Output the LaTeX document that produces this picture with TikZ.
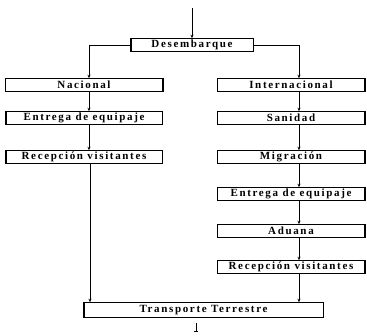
\documentclass[tikz,border=0pt]{standalone}
\usepackage{fontspec}
\setmainfont{Liberation Serif}[LetterSpace=15]
\usetikzlibrary{arrows.meta}
\tikzset{
  box/.style={draw, line width=0.6pt, minimum height=13pt, inner sep=0pt,
    font=\fontsize{11}{12}\selectfont\bfseries},
  conn/.style={line width=0.6pt},
  arr/.style={conn, -{Stealth[length=3.5pt,width=3pt]}},
}
\begin{document}
\begin{tikzpicture}[x=1pt,y=-1pt]
\useasboundingbox (0,0) rectangle (367,335);
\node[box, minimum width=122pt] (des) at (192,45) {Desembarque};
\node[box, minimum width=157pt] (nac) at (84,85) {Nacional};
\node[box, minimum width=147pt] (int) at (291,85) {Internacional};
\node[box, minimum width=156pt] (entL) at (84,118) {Entrega de equipaje};
\node[box, minimum width=147pt] (san) at (291,118) {Sanidad};
\node[box, minimum width=156pt] (recL) at (84,157) {Recepción visitantes};
\node[box, minimum width=147pt] (mig) at (291,157) {Migración};
\node[box, minimum width=147pt] (entR) at (291,194) {Entrega de equipaje};
\node[box, minimum width=147pt] (adu) at (291,231) {Aduana};
\node[box, minimum width=147pt] (recR) at (291,267) {Recepción visitantes};
\node[box, minimum width=239pt, minimum height=15pt] (tra) at (203.5,310) {Transporte Terrestre};
\foreach \n in {des,nac,int,entL,san,recL,mig,entR,adu,recR,tra}
  \draw[line width=1.4pt] (\n.north west) -- (\n.south west) (\n.north east) -- (\n.south east);
\coordinate (top) at (192,8);
\coordinate (bot) at (196,332);
\draw[arr] (top) -- (des.north);
\draw[arr] (des.west) -| (nac.north -| 89,0);
\draw[arr] (des.east) -| (int.north -| 299,0);
\draw[arr] (nac.south -| 89,0) -- (entL.north -| 89,0);
\draw[arr] (entL.south -| 89,0) -- (recL.north -| 89,0);
\draw[arr] (recL.south -| 90,0) -- (tra.north -| 90,0);
\draw[arr] (int.south -| 299,0) -- (san.north -| 299,0);
\draw[arr] (san.south -| 299,0) -- (mig.north -| 299,0);
\draw[arr] (mig.south -| 299,0) -- (entR.north -| 299,0);
\draw[arr] (entR.south -| 299,0) -- (adu.north -| 299,0);
\draw[arr] (adu.south -| 299,0) -- (recR.north -| 299,0);
\draw[arr] (recR.south -| 299,0) -- (tra.north -| 299,0);
\draw[conn, -{Bar[width=4pt]}] (tra.south -| bot) ++(0,5) -- (bot);
\end{tikzpicture}
\end{document}
